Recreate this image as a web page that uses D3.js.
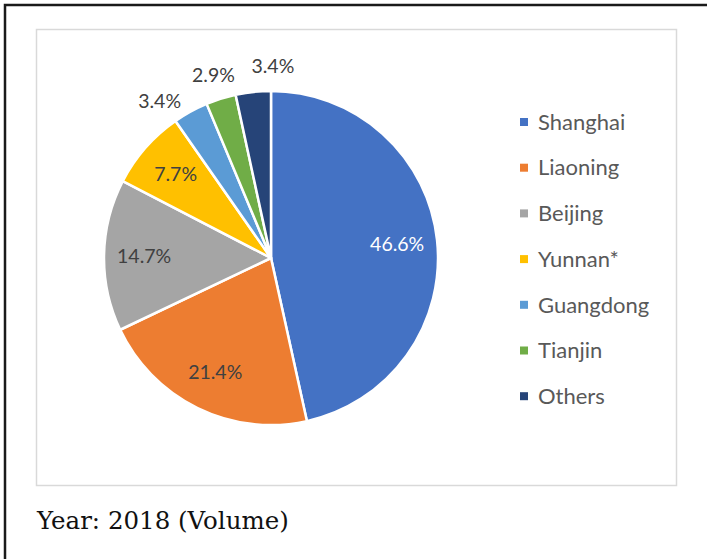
<!DOCTYPE html>
<html>
<head>
<meta charset="utf-8">
<script src="https://cdn.jsdelivr.net/npm/d3@7"></script>
<style>
  html, body { margin: 0; padding: 0; background: #fff; }
</style>
</head>
<body>
<div id="chart"></div>
<script>
// share of volume by region, 2018
const regions = ["Shanghai", "Liaoning", "Beijing", "Yunnan*", "Guangdong", "Tianjin", "Others"];
const shares = [46.6, 21.4, 14.7, 7.7, 3.4, 2.9, 3.4];
const colours = ["#4472C4", "#ED7D31", "#A5A5A5", "#FFC000", "#5B9BD5", "#70AD47", "#264478"];

const W = 707, H = 559;

const svg = d3.select("#chart")
  .append("svg")
    .attr("width", W)
    .attr("height", H);

// outer frame (top + left only visible)
svg.append("path")
  .attr("d", `M5,${H} V5 H${W}`)
  .attr("fill", "none")
  .attr("stroke", "#1a1a1a")
  .attr("stroke-width", 2.5);

// chart area box
svg.append("rect")
  .attr("x", 36.5).attr("y", 29.5)
  .attr("width", 640).attr("height", 456)
  .attr("fill", "#fff")
  .attr("stroke", "#d9d9d9")
  .attr("stroke-width", 1.5);

const cx = 271, cy = 258, r = 167;

const data = regions.map((name, i) => ({ name, value: shares[i], colour: colours[i] }));

const pie = d3.pie()
  .value(d => d.value)
  .sort(null);

const arcs = pie(data);

const arc = d3.arc().innerRadius(0).outerRadius(r);

const g = svg.append("g").attr("transform", `translate(${cx},${cy})`);

g.selectAll("path")
  .data(arcs)
  .enter().append("path")
    .attr("d", arc)
    .attr("fill", d => d.data.colour)
    .attr("stroke", "#fff")
    .attr("stroke-width", 2.5)
    .attr("stroke-linejoin", "round");

// labels: big slices inside, small ones outside (spread apart so they don't collide)
const inR = r * 0.76, outR = r * 1.15;
arcs.forEach(d => {
  d.mid = (d.startAngle + d.endAngle) / 2;
  d.outside = d.data.value < 5;
  d.la = d.mid;
});
const outs = arcs.filter(d => d.outside).sort((a, b) => a.la - b.la);
const minGap = 18 * Math.PI / 180;
for (let k = 0; k < 50; k++) {
  for (let i = 1; i < outs.length; i++) {
    const gap = outs[i].la - outs[i - 1].la;
    if (gap < minGap) {
      const push = (minGap - gap) / 2;
      outs[i].la += push;
      outs[i - 1].la -= push;
    }
  }
}

g.selectAll("text.lbl")
  .data(arcs)
  .enter().append("text")
    .attr("class", "lbl")
    .attr("x", d => (d.outside ? outR : inR) * Math.sin(d.la))
    .attr("y", d => -(d.outside ? outR : inR) * Math.cos(d.la))
    .attr("text-anchor", "middle")
    .attr("dy", "0.35em")
    .attr("font-family", "Lato, 'Open Sans', sans-serif")
    .attr("font-size", "19.5px")
    .attr("fill", d => d.data.name === "Shanghai" ? "#fff" : "#404040")
    .text(d => d3.format(".1f")(d.data.value) + "%");

// legend
const legend = svg.append("g").attr("transform", "translate(520,122)");
const rowH = 45.7;

const item = legend.selectAll("g")
  .data(data)
  .enter().append("g")
    .attr("transform", (d, i) => `translate(0,${i * rowH})`);

item.append("rect")
  .attr("x", 0).attr("y", -4)
  .attr("width", 8).attr("height", 8)
  .attr("fill", d => d.colour);

item.append("text")
  .attr("x", 18)
  .attr("dy", "0.35em")
  .attr("font-family", "Lato, 'Open Sans', sans-serif")
  .attr("font-size", "22px")
  .attr("fill", "#595959")
  .text(d => d.name);

// caption under the chart
svg.append("text")
  .attr("x", 37)
  .attr("y", 529)
  .attr("font-family", "'DejaVu Serif', serif")
  .attr("font-size", "24.5px")
  .attr("fill", "#111")
  .text("Year: 2018 (Volume)");
</script>
</body>
</html>
